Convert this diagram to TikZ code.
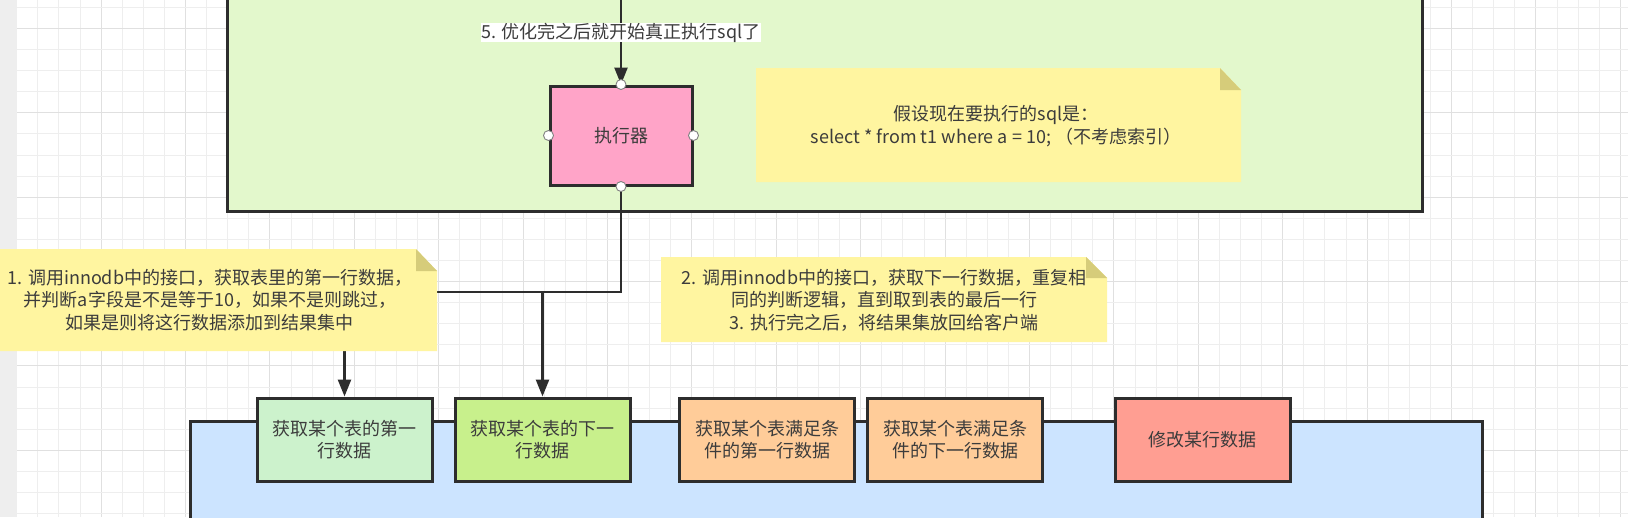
\documentclass[tikz,border=0pt]{standalone}
\usepackage{fontspec}
\setmainfont{Noto Sans CJK SC}
\usetikzlibrary{arrows.meta}
\definecolor{strip}{RGB}{238,238,238}
\definecolor{gminor}{RGB}{238,238,238}
\definecolor{gmajor}{RGB}{224,224,224}
\definecolor{gbg}{RGB}{227,248,204}
\definecolor{bbg}{RGB}{204,228,255}
\definecolor{pinkc}{RGB}{255,164,200}
\definecolor{notec}{RGB}{255,245,160}
\definecolor{foldc}{RGB}{214,204,122}
\definecolor{c1}{RGB}{204,242,204}
\definecolor{c2}{RGB}{200,240,140}
\definecolor{c3}{RGB}{255,204,153}
\definecolor{c5}{RGB}{255,158,146}
\definecolor{ink}{RGB}{45,45,45}
\definecolor{txtc}{RGB}{60,60,60}
\tikzset{
  txt/.style={text=txtc,font=\fontsize{18}{22.5}\selectfont,align=center,inner sep=0pt},
  box/.style={draw=ink,line width=3pt,minimum width=175pt,minimum height=83pt,txt},
  cont/.style={draw=ink,line width=3pt},
  conn/.style={draw=ink,line width=2.5pt,-{Triangle[length=17pt,width=13pt]}},
  handle/.style={circle,draw=gray,fill=white,line width=0.9pt,minimum size=10pt,inner sep=0pt},
  notebg/.style={fill=notec},
  notefold/.style={fill=foldc}
}
\begin{document}
\begin{tikzpicture}[x=1pt,y=-1pt]
\useasboundingbox (0,0) rectangle (1628,517);
\clip (0,0) rectangle (1628,517);
\fill[white] (0,0) rectangle (1628,517);
% grid
\foreach \m in {0,...,76} {
  \pgfmathsetmacro{\gx}{16.6+21.1*\m}
  \pgfmathtruncatemacro{\r}{mod(\m,4)}
  \ifnum\r=0 \draw[gmajor,line width=1pt] (\gx,0) -- (\gx,517);
  \else \draw[gminor,line width=0.8pt] (\gx,0) -- (\gx,517); \fi
}
\foreach \m in {0,...,24} {
  \pgfmathsetmacro{\gy}{7.2+21.1*\m}
  \pgfmathtruncatemacro{\r}{mod(\m+3,4)}
  \ifnum\r=0 \draw[gmajor,line width=1pt] (17,\gy) -- (1628,\gy);
  \else \draw[gminor,line width=0.8pt] (17,\gy) -- (1628,\gy); \fi
}
\fill[strip] (0,0) rectangle (17,517);
% containers
\draw[cont,fill=gbg] (227,-20) rectangle (1422,211);
\draw[cont,fill=bbg] (190,421) rectangle (1482,540);
% executor
\node[box,fill=pinkc,minimum width=142pt,minimum height=99pt] (exec) at (621,135.5) {执行器};
% boxes
\node[box,fill=c1] (b1) at (344.5,439.5) {获取某个表的第一\\行数据};
\node[box,fill=c2] (b2) at (542.5,439.5) {获取某个表的下一\\行数据};
\node[box,fill=c3] (b3) at (767,439.5) {获取某个表满足条\\件的第一行数据};
\node[box,fill=c3] (b4) at (955,439.5) {获取某个表满足条\\件的下一行数据};
\node[box,fill=c5] (b5) at (1202.5,439.5) {修改某行数据};
% connectors
\coordinate (topin) at (621,-10);
\coordinate (bus) at (0,292);
\draw[conn] (topin) -- (exec.north)
  node[pos=0.45,fill=white,inner sep=4pt,txt] (lbl5) {5. 优化完之后就开始真正执行sql了};
\draw[conn] (exec.south) -- (exec.south |- bus) -| (b1.north);
\draw[conn] (b2.north |- bus) -- (b2.north);
% notes
\fill[notebg] (-10,249) -- (416,249) -- (437,271) -- (437,351) -- (-10,351) -- cycle;
\fill[notefold] (416,249) -- (437,271) -- (416,271) -- cycle;
\node[txt] (n1) at (210,300) {1. 调用innodb中的接口，获取表里的第一行数据，\\并判断a字段是不是等于10，如果不是则跳过，\\如果是则将这行数据添加到结果集中};
\fill[notebg] (661,257) -- (1086,257) -- (1107,278) -- (1107,342) -- (661,342) -- cycle;
\fill[notefold] (1086,257) -- (1107,278) -- (1086,278) -- cycle;
\node[txt] (n2) at (884,300) {2. 调用innodb中的接口，获取下一行数据，重复相\\同的判断逻辑，直到取到表的最后一行\\3. 执行完之后，将结果集放回给客户端};
\fill[notebg] (756,68) -- (1220,68) -- (1241,90) -- (1241,182) -- (756,182) -- cycle;
\fill[notefold] (1220,68) -- (1241,90) -- (1220,90) -- cycle;
\node[txt] (n3) at (996,126) {假设现在要执行的sql是：\\select * from t1 where a = 10; （不考虑索引）};
% handles
\node[handle] at (exec.north) {};
\node[handle] at (exec.south) {};
\node[handle] at (exec.west) {};
\node[handle] at (exec.east) {};
\end{tikzpicture}
\end{document}
